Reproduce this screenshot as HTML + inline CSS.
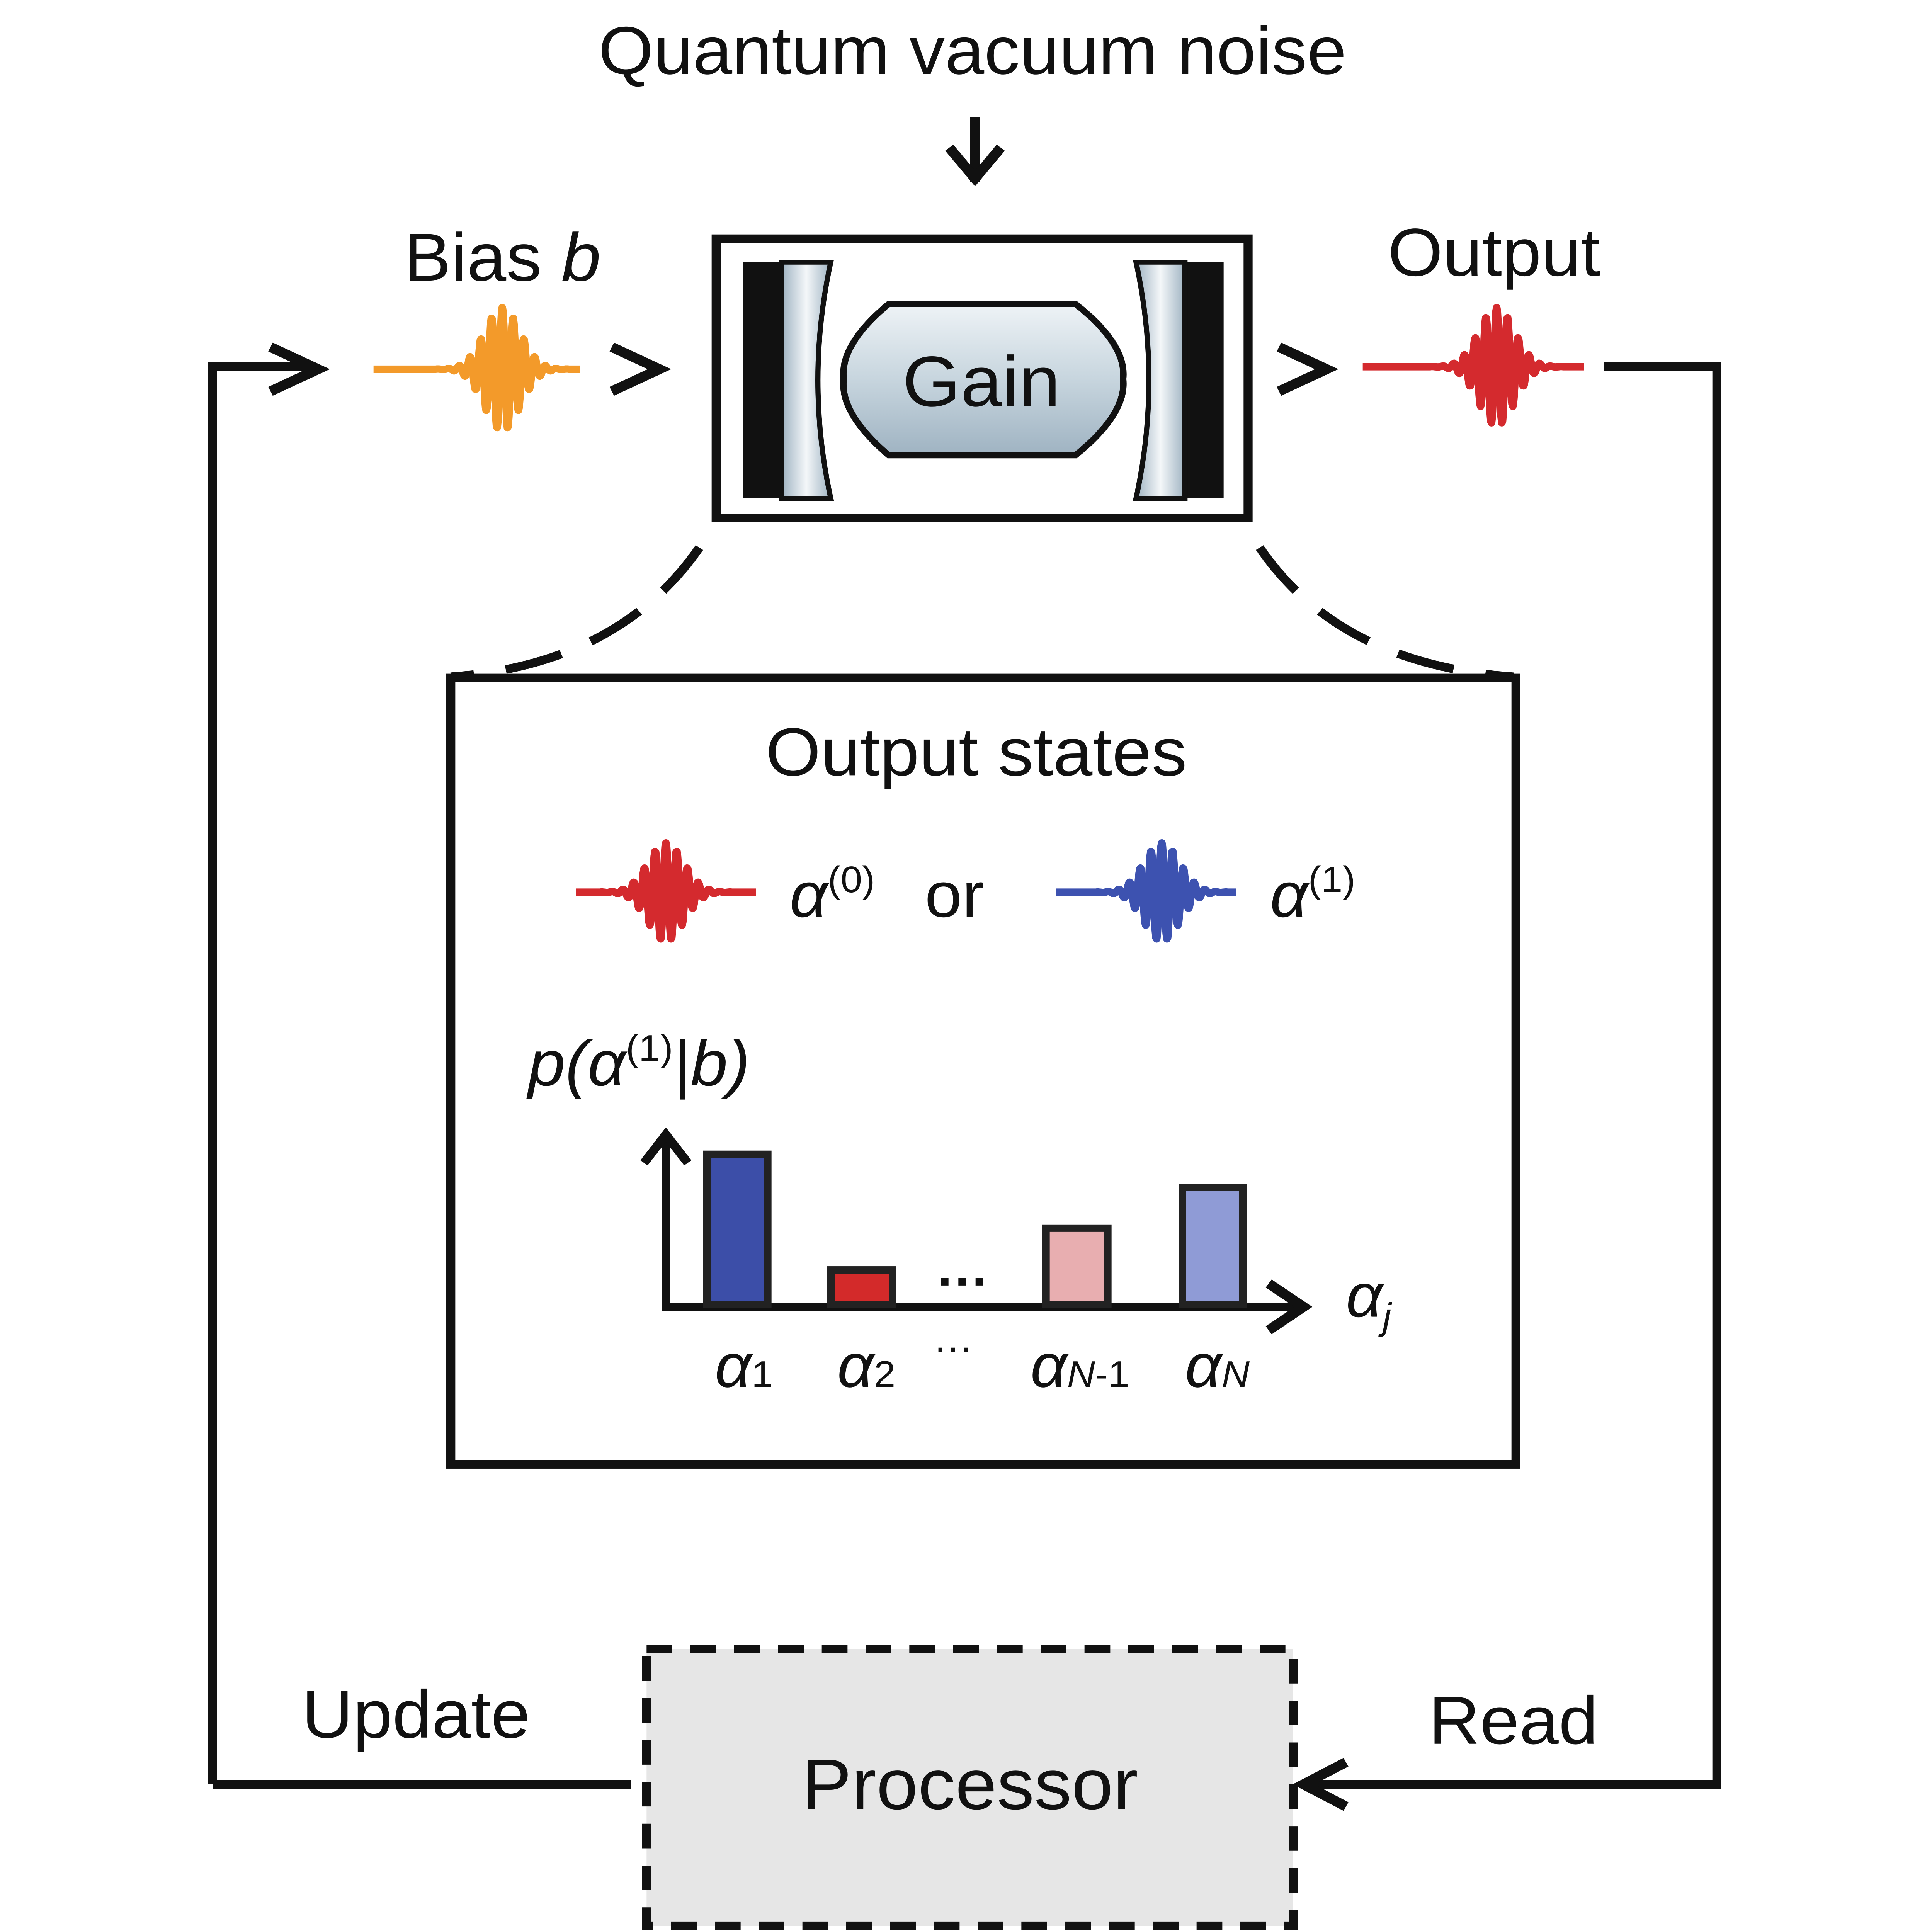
<!DOCTYPE html>
<html><head><meta charset="utf-8"><style>
html,body{margin:0;padding:0;background:#fff;width:100%;height:100%;overflow:hidden}
svg{display:block;position:fixed;left:0;top:0;width:100vw;height:100vh}
text{font-family:"Liberation Sans",sans-serif;fill:#111}
</style></head><body>
<svg viewBox="0 0 1500 1570" preserveAspectRatio="none" xmlns="http://www.w3.org/2000/svg">
<defs>
<linearGradient id="mg" x1="0" x2="1" y1="0" y2="0"><stop offset="0" stop-color="#9fb3c2"/><stop offset="0.5" stop-color="#f4f7f9"/><stop offset="1" stop-color="#9fb3c2"/></linearGradient>
<linearGradient id="gg" x1="0" x2="0" y1="0" y2="1"><stop offset="0" stop-color="#eef3f6"/><stop offset="0.5" stop-color="#c7d5de"/><stop offset="1" stop-color="#9fb3c2"/></linearGradient>
</defs>
<text x="755" y="60" font-size="55" text-anchor="middle">Quantum vacuum noise</text>
<g stroke="#111" stroke-width="8" fill="none" stroke-linecap="butt">
<line x1="757" y1="95" x2="757" y2="148"/>
<polyline points="737,120 757,145 777,120"/>
<rect x="556" y="194" width="413" height="227" stroke-width="7"/>
<polyline points="475,282 512,300 475,318"/>
<polyline points="993,282 1030,300 993,318"/>
<polyline points="210,282 247,300 210,318"/>
<polyline points="165,1450 165,298 245,298" stroke-width="7"/>
<line x1="490" y1="1450" x2="165" y2="1450" stroke-width="7"/>
<polyline points="1245,298 1333,298 1333,1450 1015,1450" stroke-width="7"/>
<polyline points="1045,1432 1012,1450 1045,1468"/>
<path d="M543,445 Q480,540 350,550" stroke-dasharray="45,25" stroke-width="7"/>
<path d="M978,445 Q1040,540 1175,550" stroke-dasharray="45,25" stroke-width="7"/>
<rect x="350" y="551" width="827" height="639" stroke-width="7"/>
<polyline points="517,1062 517,928" stroke-width="6"/>
<polyline points="500,945 517,922 534,945" stroke-width="7"/>
<line x1="514" y1="1062" x2="1010" y2="1062" stroke-width="7"/>
<polyline points="985,1043 1012,1062 985,1081" stroke-width="8"/>
</g>
<rect x="577" y="213" width="30" height="192" fill="#111"/>
<path d="M607,213 L645,213 Q625,309 645,405 L607,405 Z" fill="url(#mg)" stroke="#111" stroke-width="4"/>
<rect x="920" y="213" width="30" height="192" fill="#111"/>
<path d="M920,213 L882,213 Q902,309 882,405 L920,405 Z" fill="url(#mg)" stroke="#111" stroke-width="4"/>
<path d="M690,247 L835,247 Q875,280 872,308 Q875,336 835,370 L690,370 Q652,336 655,308 Q652,280 690,247 Z" fill="url(#gg)" stroke="#111" stroke-width="5"/>
<text x="762" y="330" font-size="58" text-anchor="middle">Gain</text>
<text x="390" y="228" font-size="55" text-anchor="middle">Bias <tspan font-style="italic">b</tspan></text>
<text x="1160" y="224" font-size="55" text-anchor="middle">Output</text>
<g id="waves" fill="none" stroke-width="6" stroke-linejoin="round"></g>
<text x="758" y="630" font-size="55" text-anchor="middle">Output states</text>
<text x="613" y="745" font-size="52" font-style="italic">α<tspan font-size="30" font-style="normal" dy="-20">(0)</tspan></text>
<text x="718" y="745" font-size="52">or</text>
<text x="986" y="745" font-size="52" font-style="italic">α<tspan font-size="30" font-style="normal" dy="-20">(1)</tspan></text>
<text x="410" y="882" font-size="52" font-style="italic">p(α<tspan font-size="30" font-style="normal" dy="-20">(1)</tspan><tspan dy="20">|b)</tspan></text>
<g stroke="#222" stroke-width="6">
<rect x="549" y="938" width="47" height="122" fill="#3c4ea8"/>
<rect x="645" y="1032" width="48" height="28" fill="#d32a2a"/>
<rect x="812" y="998" width="48" height="62" fill="#e8aeb0"/>
<rect x="918" y="965" width="47" height="95" fill="#8f9bd6"/>
</g>
<text x="748" y="1055" font-size="40" text-anchor="middle" font-weight="bold">···</text>
<text x="555" y="1127" font-size="50" font-style="italic">α<tspan font-size="30" font-style="normal">1</tspan></text>
<text x="650" y="1127" font-size="50" font-style="italic">α<tspan font-size="30" font-style="normal">2</tspan></text>
<text x="740" y="1105" font-size="30" text-anchor="middle">···</text>
<text x="800" y="1127" font-size="50" font-style="italic">α<tspan font-size="30">N</tspan><tspan font-size="30" font-style="normal">-1</tspan></text>
<text x="920" y="1127" font-size="50" font-style="italic">α<tspan font-size="30">N</tspan></text>
<text x="1045" y="1070" font-size="50" font-style="italic">α<tspan font-size="30" dy="10">j</tspan></text>
<rect x="502" y="1340" width="502" height="225" fill="#e6e6e6" stroke="#111" stroke-width="7" stroke-dasharray="20,14"/>
<text x="753" y="1470" font-size="58" text-anchor="middle" fill="#333">Processor</text>
<text x="323" y="1412" font-size="55" text-anchor="middle">Update</text>
<text x="1175" y="1417" font-size="55" text-anchor="middle">Read</text>
</svg>
<script>
function wave(x0,x1,cx,y,amp,col){
 var d="M"+x0+","+y;
 for(var x=x0;x<=x1;x+=0.5){
  var t=(x-cx);var e=Math.exp(-t*t/(2*14*14));
  var v=y-amp*e*Math.cos(t*0.75);
  d+=" L"+x.toFixed(1)+","+v.toFixed(1);
 }
 var p=document.createElementNS("http://www.w3.org/2000/svg","path");
 p.setAttribute("d",d);p.setAttribute("stroke",col);
 document.getElementById("waves").appendChild(p);
}
wave(290,450,390,300,50,"#f39a2a");
wave(1058,1230,1162,298,48,"#d42a2e");
wave(447,587,517,725,40,"#d42a2e");
wave(820,960,902,725,40,"#3d52b0");
</script>
</body></html>
